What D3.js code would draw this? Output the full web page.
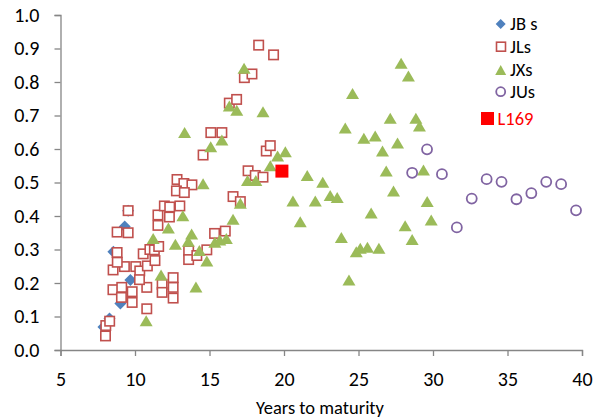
<!DOCTYPE html>
<html>
<head>
<meta charset="utf-8">
<script src="https://cdn.jsdelivr.net/npm/d3@7"></script>
<style>
  body { margin: 0; background: #fff; }
  svg text { font-family: Carlito, Lato, "Open Sans", sans-serif; }
</style>
</head>
<body>
<div id="chart"></div>
<script>
// values: [years to maturity, value]
const jbs = [[7.88,0.069],[8.29,0.094],[9.02,0.139],[9.69,0.209],[8.55,0.293],[9.31,0.369],[9.54,0.416]];

const jls = [
  [8.02,0.042],[8.04,0.073],[8.30,0.086],[8.52,0.180],[9.11,0.187],[9.81,0.174],[9.09,0.157],[9.81,0.142],
  [10.79,0.123],[10.79,0.187],[8.53,0.239],[9.29,0.249],[10.05,0.249],[10.32,0.236],[10.30,0.210],[10.83,0.251],
  [10.55,0.287],[11.00,0.300],[11.30,0.299],[11.59,0.309],[11.34,0.267],[8.80,0.291],[8.81,0.262],[8.80,0.352],
  [9.54,0.350],[9.54,0.416],[11.82,0.196],[11.82,0.172],[12.56,0.216],[12.56,0.187],[12.56,0.155],[13.60,0.296],
  [13.60,0.270],[14.15,0.282],[14.82,0.299],[15.34,0.348],[16.06,0.355],[11.54,0.403],[11.54,0.372],[11.97,0.430],
  [12.33,0.427],[12.31,0.397],[13.01,0.430],[12.82,0.509],[13.28,0.497],[13.82,0.493],[12.78,0.475],[13.31,0.470],
  [16.58,0.458],[17.07,0.443],[14.57,0.582],[15.09,0.649],[15.83,0.649],[16.33,0.737],[16.82,0.748],[17.34,0.813],
  [17.85,0.824],[18.30,0.910],[19.30,0.881],[17.59,0.535],[18.07,0.521],[18.59,0.516],[18.81,0.594],[19.08,0.610]
];

const jxs = [
  [10.75,0.087],[11.22,0.333],[11.75,0.224],[12.24,0.364],[12.71,0.316],[13.21,0.401],[13.33,0.649],[13.58,0.325],
  [13.80,0.346],[14.09,0.188],[14.32,0.297],[14.57,0.496],[14.82,0.266],[15.08,0.607],[15.36,0.322],[15.69,0.328],
  [15.83,0.627],[16.13,0.333],[16.58,0.390],[16.33,0.728],[16.83,0.716],[17.07,0.438],[17.32,0.841],[17.55,0.506],
  [18.11,0.506],[18.59,0.711],[19.08,0.550],[19.57,0.579],[20.09,0.592],[20.60,0.445],[21.09,0.383],[21.56,0.521],
  [22.10,0.445],[22.60,0.501],[23.10,0.461],[23.57,0.455],[23.85,0.336],[24.11,0.663],[24.36,0.209],[24.60,0.766],
  [24.85,0.293],[25.12,0.304],[25.60,0.307],[25.85,0.409],[26.12,0.639],[26.37,0.304],[26.61,0.594],[25.36,0.632],
  [26.86,0.534],[27.13,0.692],[27.35,0.475],[27.62,0.618],[27.86,0.856],[28.13,0.371],[28.35,0.818],[28.60,0.330],
  [28.85,0.692],[29.09,0.669],[29.36,0.537],[29.61,0.443],[29.88,0.388]
];

const jus = [[28.6,0.529],[29.6,0.599],[30.6,0.525],[31.6,0.366],[32.6,0.452],[33.6,0.510],
             [34.6,0.502],[35.6,0.450],[36.6,0.468],[37.6,0.502],[38.6,0.495],[39.6,0.417]];

const l169 = [[19.86,0.534]];

const xTicks = [5,10,15,20,25,30,35,40];
const yTicks = [0,0.1,0.2,0.3,0.4,0.5,0.6,0.7,0.8,0.9,1.0];
const legendNames = ['JB s','JLs','JXs','JUs'];

const W = 597, H = 419;
const svg = d3.select('#chart').append('svg').attr('width', W).attr('height', H);

const x = d3.scaleLinear().domain([5, 40]).range([60.5, 582]);
const y = d3.scaleLinear().domain([0, 1]).range([350, 15]);

const axisColor = '#868686';

// X axis
const gx = svg.append('g').attr('transform', 'translate(0,350)')
  .call(d3.axisBottom(x).tickValues(xTicks).tickSize(6).tickPadding(16).tickFormat(d3.format('d')));
// Y axis
const gy = svg.append('g').attr('transform', 'translate(60.5,0)')
  .call(d3.axisLeft(y).tickValues(yTicks).tickSize(6).tickPadding(15).tickFormat(d3.format('.1f')));

[gx, gy].forEach(g => {
  g.select('.domain').attr('stroke', axisColor).attr('stroke-width', 1.3);
  g.selectAll('.tick line').attr('stroke', axisColor).attr('stroke-width', 1.3);
  g.selectAll('.tick text').attr('fill', '#000').style('font-size', '20px');
});

svg.append('text').attr('x', 320).attr('y', 414).attr('text-anchor', 'middle')
  .style('font-size', '18.5px').attr('fill', '#000').text('Years to maturity');

// marker shapes
const diamond = s => `M0,${-s}L${s},0L0,${s}L${-s},0Z`;
const tri = (w, h) => `M0,${-h / 2}L${w / 2},${h / 2}L${-w / 2},${h / 2}Z`;

const plot = svg.append('g');

plot.selectAll('.jbs').data(jbs).enter().append('path')
  .attr('d', diamond(6)).attr('fill', '#4F81BD')
  .attr('transform', d => `translate(${x(d[0])},${y(d[1])})`);

plot.selectAll('.jls').data(jls).enter().append('rect')
  .attr('x', d => x(d[0]) - 4.7).attr('y', d => y(d[1]) - 4.7)
  .attr('width', 9.4).attr('height', 9.4)
  .attr('fill', '#fff').attr('stroke', '#C0504D').attr('stroke-width', 1.6);

plot.selectAll('.jxs').data(jxs).enter().append('path')
  .attr('d', tri(13, 11)).attr('fill', '#9BBB59')
  .attr('transform', d => `translate(${x(d[0])},${y(d[1])})`);

plot.selectAll('.jus').data(jus).enter().append('circle')
  .attr('cx', d => x(d[0])).attr('cy', d => y(d[1])).attr('r', 5)
  .attr('fill', '#fff').attr('stroke', '#8064A2').attr('stroke-width', 1.8);

plot.selectAll('.l169').data(l169).enter().append('rect')
  .attr('x', d => x(d[0]) - 6.5).attr('y', d => y(d[1]) - 6.5)
  .attr('width', 13).attr('height', 13).attr('fill', '#FF0000');

// legend
const leg = svg.append('g');
const ly = [24, 46.7, 70, 91.7];
leg.append('path').attr('d', diamond(5)).attr('fill', '#4F81BD')
  .attr('transform', `translate(500.7,${ly[0]})`);
leg.append('rect').attr('x', 496.5).attr('y', ly[1] - 4.5).attr('width', 9).attr('height', 9)
  .attr('fill', '#fff').attr('stroke', '#C0504D').attr('stroke-width', 1.6);
leg.append('path').attr('d', tri(11, 10)).attr('fill', '#9BBB59')
  .attr('transform', `translate(500.7,${ly[2]})`);
leg.append('circle').attr('cx', 500.7).attr('cy', ly[3]).attr('r', 4.5)
  .attr('fill', '#fff').attr('stroke', '#8064A2').attr('stroke-width', 1.8);
legendNames.forEach((n, i) => {
  leg.append('text').attr('x', 510).attr('y', ly[i]).attr('dy', '0.35em')
    .style('font-size', '18.5px').attr('fill', '#000').text(n);
});
leg.append('rect').attr('x', 481).attr('y', 112).attr('width', 13).attr('height', 13).attr('fill', '#FF0000');
leg.append('text').attr('x', 497.5).attr('y', 118.5).attr('dy', '0.35em')
  .style('font-size', '18.5px').attr('fill', '#FF0000').text('L169');
</script>
</body>
</html>
